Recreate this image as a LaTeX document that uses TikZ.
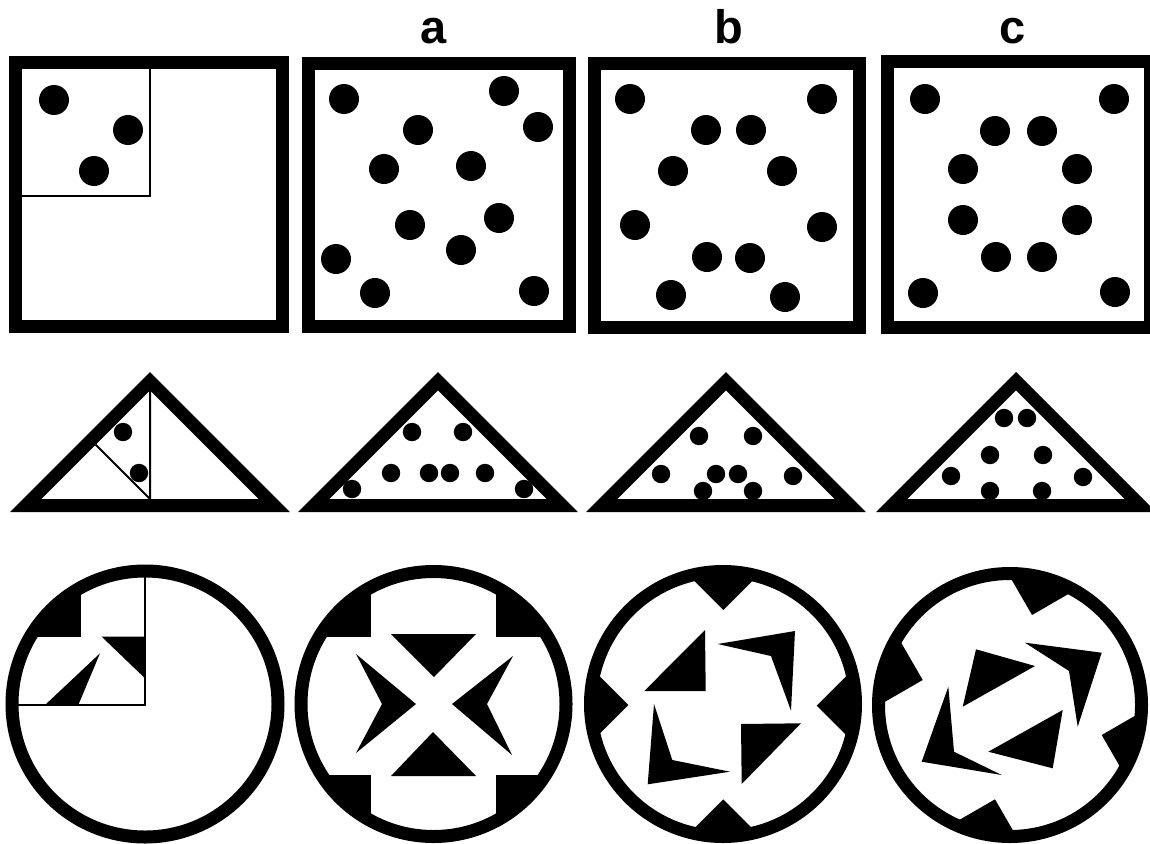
\documentclass[tikz,border=0pt]{standalone}
\usepackage{fontspec}
\setmainfont{Liberation Sans}
\newcommand\mytri[1]{\draw[frame] ({#1-124.3},505.5) -- (#1,381.2) -- ({#1+124.3},505.5) -- cycle;}
\begin{document}
\begin{tikzpicture}[x=1pt,y=-1pt,
  frame/.style={line width=13pt, line join=miter},
  thin/.style={line width=2pt},
  lbl/.style={font=\fontsize{47}{47}\selectfont\bfseries, anchor=base, inner sep=0pt}]
\useasboundingbox (0,0) rectangle (1150,843);
\clip (0,0) rectangle (1150,843);
\fill[white] (0,0) rectangle (1150,843);

% ---------- labels ----------
\node[lbl] (la) at (434,44) {a};
\node[lbl] (lb) at (729,44) {b};
\node[lbl] (lc) at (1013,44) {c};

% ---------- squares ----------
\draw[frame] (15.5,62.5) rectangle (282.5,326.5);
\draw[frame] (308,63.5) rectangle (569.5,326.5);
\draw[frame] (594.5,63.5) rectangle (859.5,327.5);
\draw[frame] (887.5,61.5) rectangle (1150.5,327.5);
\draw[thin] (150,68) -- (150,196) -- (22,196);

\foreach \p in {(54,100),(128,130),(94,171)} \fill \p circle[radius=15pt];
\foreach \p in {(344,99),(504,91),(538,127),(418,130),(384,169),(471,166),(410,225),(499,218),(461,250),(336,259),(375,293),(534,291)}
  \fill \p circle[radius=15pt];
\foreach \p in {(630,99),(822,99),(706,130),(751,130),(673,171),(782,171),(635,225),(822,227),(707,257),(750,258),(671,295),(785,297)}
  \fill \p circle[radius=15pt];
\foreach \p in {(925,99),(1114,99),(995,131),(1042,131),(963,169),(1077,169),(963,220),(1077,220),(996,257),(1042,257),(923,293),(1115,292)}
  \fill \p circle[radius=15pt];

% ---------- triangles ----------
\mytri{150}
\mytri{438}
\mytri{726}
\mytri{1016}
\draw[thin] (150,386) -- (150,499) -- (95.7,444.7);
\foreach \p in {(123,432),(139,473)} \fill \p circle[radius=9.2pt];
\foreach \p in {(412,432),(463,432),(391,473),(429,473),(450,473),(485,473),(352,489),(524,489)}
  \fill \p circle[radius=9.2pt];
\foreach \p in {(699,436),(753,436),(661,474),(716,474),(738,474),(793,476),(703,491),(753,491)}
  \fill \p circle[radius=9.2pt];
\foreach \p in {(1004,418),(1027,418),(990,455),(1043,455),(951,476),(1083,477),(990,491),(1042,491)}
  \fill \p circle[radius=9.2pt];

% ---------- circle 1 ----------
\draw[frame] (145,704) circle[radius=133pt];
\begin{scope}
  \clip (145,704) circle[radius=128pt];
  \fill (0,560) rectangle (81,637);
  \draw[thin] (145,560) -- (145,705) -- (0,705);
\end{scope}
\fill (101.7,636.7) -- (145,636.7) -- (145,678.3) -- cycle;
\fill (45,705) -- (78.3,705) -- (100,653.3) -- cycle;

% ---------- circle a ----------
\draw[frame] (433.5,704) circle[radius=132.5pt];
\begin{scope}
  \clip (433.5,704) circle[radius=128pt];
  \fill (290,560) rectangle (371,637);
  \fill (496,560) rectangle (580,637);
  \fill (290,775) rectangle (371,850);
  \fill (496,775) rectangle (580,850);
\end{scope}
\fill (391,634) -- (476,634) -- (434,677) -- cycle;
\fill (391,776) -- (476,776) -- (433,732) -- cycle;
\fill (356,654) -- (416,704) -- (356,753) -- (382,704) -- cycle;
\fill (513,656) -- (452,704) -- (512,755) -- (487,704) -- cycle;

% ---------- circle b ----------
\draw[frame] (723,704) circle[radius=132.5pt];
\begin{scope}
  \clip (723,704) circle[radius=128pt];
  \fill[shift={(723.3,610)}] (0,0) -- (-60,-60) -- (0,-120) -- (60,-60) -- cycle;
  \fill[shift={(816.7,705.7)},rotate=-90] (0,0) -- (-60,-60) -- (0,-120) -- (60,-60) -- cycle;
  \fill[shift={(723.3,799.3)},rotate=180] (0,0) -- (-60,-60) -- (0,-120) -- (60,-60) -- cycle;
  \fill[shift={(628.3,705)},rotate=90] (0,0) -- (-60,-60) -- (0,-120) -- (60,-60) -- cycle;
\end{scope}
\fill (705,630) -- (705.7,691) -- (644.3,691) -- cycle;
\fill (717.7,644) -- (795,631) -- (791,710.7) -- (771,656) -- cycle;
\fill (654,704) -- (647.7,784.3) -- (730,771.7) -- (672.3,760) -- cycle;
\fill (741,724) -- (801,723.3) -- (741.7,784) -- cycle;

% ---------- circle c ----------
\draw[frame] (1010,705) circle[radius=131.5pt];
\begin{scope}
  \clip (1010,705) circle[radius=127pt];
  \fill[shift={(1032,615)},rotate=-15] (0,0) -- (-60,-60) -- (0,-120) -- (60,-60) -- cycle;
  \fill[shift={(1101.7,735)},rotate=-105] (0,0) -- (-60,-60) -- (0,-120) -- (60,-60) -- cycle;
  \fill[shift={(995,799.3)},rotate=165] (0,0) -- (-60,-60) -- (0,-120) -- (60,-60) -- cycle;
  \fill[shift={(922.7,680)},rotate=75] (0,0) -- (-60,-60) -- (0,-120) -- (60,-60) -- cycle;
\end{scope}
\fill (976,649.3) -- (1035,666) -- (962.7,706.7) -- cycle;
\fill (1025,642.7) -- (1101.7,652.7) -- (1077.7,726.7) -- (1069,671) -- cycle;
\fill (988.3,751.7) -- (1062.7,710) -- (1052.7,768.3) -- cycle;
\fill (948.3,686.7) -- (921.7,761.7) -- (1001.7,775) -- (954,751.7) -- cycle;
\end{tikzpicture}
\end{document}
